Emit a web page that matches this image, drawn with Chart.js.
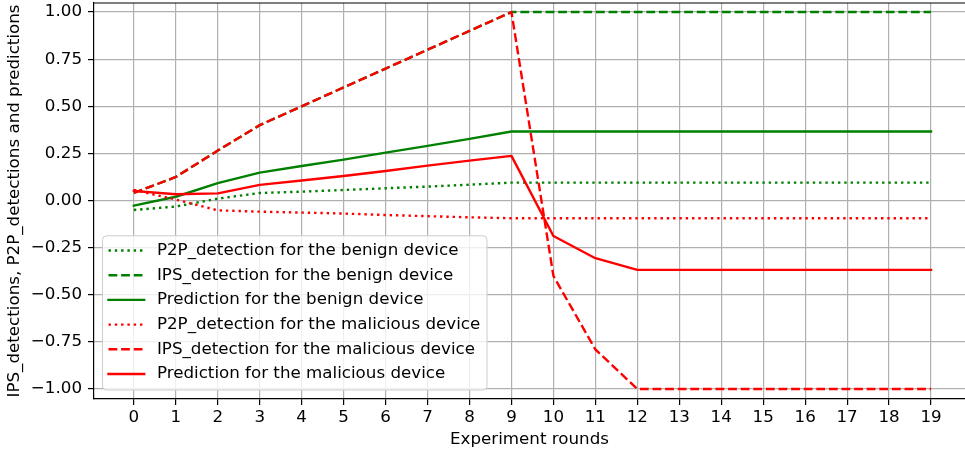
<!DOCTYPE html>
<html>
<head>
<meta charset="utf-8">
<script src="https://cdn.jsdelivr.net/npm/chart.js@4.4.0/dist/chart.umd.min.js"></script>
<style>
  html, body { margin: 0; padding: 0; background: #fff; overflow: hidden; }
  #wrap { width: 965px; height: 455px; }
</style>
</head>
<body>
<div id="wrap"><canvas id="chart" width="965" height="455"></canvas></div>
<script>
// Experiment rounds on the x axis
const rounds = [0, 1, 2, 3, 4, 5, 6, 7, 8, 9, 10, 11, 12, 13, 14, 15, 16, 17, 18, 19];

// Benign device
const p2pBenign  = [-0.05, -0.032, 0.01, 0.04, 0.047, 0.056, 0.065, 0.074, 0.084, 0.095,
                    0.095, 0.095, 0.095, 0.095, 0.095, 0.095, 0.095, 0.095, 0.095, 0.095];
const ipsBenign  = [0.04, 0.125, 0.265, 0.4, 0.5, 0.6, 0.7, 0.8, 0.9, 1.0,
                    1.0, 1.0, 1.0, 1.0, 1.0, 1.0, 1.0, 1.0, 1.0, 1.0];
const predBenign = [-0.027, 0.02, 0.092, 0.148, 0.183, 0.217, 0.254, 0.29, 0.327, 0.366,
                    0.366, 0.366, 0.366, 0.366, 0.366, 0.366, 0.366, 0.366, 0.366, 0.366];

// Malicious device
const p2pMal  = [0.056, 0.005, -0.052, -0.059, -0.064, -0.069, -0.077, -0.083, -0.089, -0.094,
                 -0.094, -0.094, -0.094, -0.094, -0.094, -0.094, -0.094, -0.094, -0.094, -0.094];
const ipsMal  = [0.04, 0.125, 0.265, 0.4, 0.5, 0.6, 0.7, 0.8, 0.9, 1.0,
                 -0.4, -0.79, -1.0, -1.0, -1.0, -1.0, -1.0, -1.0, -1.0, -1.0];
const predMal = [0.051, 0.033, 0.038, 0.083, 0.106, 0.13, 0.157, 0.185, 0.212, 0.237,
                 -0.188, -0.306, -0.368, -0.368, -0.368, -0.368, -0.368, -0.368, -0.368, -0.368];

// Tick labels
const xTicks = [0, 1, 2, 3, 4, 5, 6, 7, 8, 9, 10, 11, 12, 13, 14, 15, 16, 17, 18, 19];
const yTicks = [-1.0, -0.75, -0.5, -0.25, 0, 0.25, 0.5, 0.75, 1.0];

const GREEN = '#008000';
const RED = '#ff0000';
const DOTTED = [2.4, 3.9];
const DASHED = [8.8, 3.8];
const FONT = 16.7;

Chart.defaults.font.family = '"DejaVu Sans", sans-serif';
Chart.defaults.font.size = FONT;
Chart.defaults.color = '#000';

function pts(arr) {
  return rounds.map((r, i) => ({ x: r, y: arr[i] }));
}

function series(label, arr, color, dash, idx) {
  return {
    label: label,
    data: pts(arr),
    borderColor: color,
    backgroundColor: color,
    borderWidth: 2.4,
    borderDash: dash,
    borderCapStyle: dash.length ? 'butt' : 'square',
    borderJoinStyle: 'round',
    pointRadius: 0,
    tension: 0,
    fill: false,
    order: 5 - idx // later series drawn on top, like matplotlib
  };
}

// matplotlib style legend box inside the axes (lower left)
const legendBox = {
  id: 'legendBox',
  afterDraw(chart) {
    const { ctx, chartArea } = chart;
    const ds = chart.data.datasets;
    const rowH = 24.7;
    const w = 384.5;
    const h = ds.length * rowH + 6;
    const x0 = chartArea.left + 8.5;
    const y0 = chartArea.bottom - 9 - h;
    ctx.save();
    ctx.beginPath();
    ctx.roundRect(x0, y0, w, h, 4);
    ctx.fillStyle = 'rgba(255,255,255,0.8)';
    ctx.fill();
    ctx.strokeStyle = '#cccccc';
    ctx.lineWidth = 1;
    ctx.stroke();
    ds.forEach((d, i) => {
      const cy = y0 + 14.7 + i * rowH;
      ctx.beginPath();
      ctx.setLineDash(d.borderDash);
      ctx.lineCap = d.borderCapStyle;
      ctx.strokeStyle = d.borderColor;
      ctx.lineWidth = d.borderWidth;
      ctx.moveTo(x0 + 6, cy);
      ctx.lineTo(x0 + 41.7, cy);
      ctx.stroke();
      ctx.setLineDash([]);
      ctx.fillStyle = '#000';
      ctx.font = FONT + 'px "DejaVu Sans"';
      ctx.textBaseline = 'middle';
      ctx.fillText(d.label, x0 + 54.4, cy);
    });
    // top spine
    ctx.beginPath();
    ctx.strokeStyle = '#000';
    ctx.lineWidth = 1.2;
    ctx.moveTo(chartArea.left, chartArea.top);
    ctx.lineTo(chartArea.right, chartArea.top);
    ctx.stroke();
    ctx.restore();
  }
};

new Chart(document.getElementById('chart'), {
  type: 'line',
  data: {
    datasets: [
      series('P2P_detection for the benign device', p2pBenign, GREEN, DOTTED, 0),
      series('IPS_detection for the benign device', ipsBenign, GREEN, DASHED, 1),
      series('Prediction for the benign device', predBenign, GREEN, [], 2),
      series('P2P_detection for the malicious device', p2pMal, RED, DOTTED, 3),
      series('IPS_detection for the malicious device', ipsMal, RED, DASHED, 4),
      series('Prediction for the malicious device', predMal, RED, [], 5)
    ]
  },
  options: {
    responsive: false,
    animation: false,
    devicePixelRatio: 1,
    layout: { padding: { top: 3, right: 0, left: 0, bottom: 0 } },
    plugins: { legend: { display: false }, tooltip: { enabled: false } },
    scales: {
      x: {
        type: 'linear',
        min: -0.95,
        max: 19.81,
        afterBuildTicks: s => { s.ticks = xTicks.map(v => ({ value: v })); },
        afterFit: s => { s.height = 56; s.paddingLeft = 0; s.paddingRight = 0; },
        ticks: { padding: 3, maxRotation: 0, autoSkip: false, color: '#000' },
        grid: { color: '#b0b0b0', lineWidth: 1.2, tickColor: '#000', tickLength: 6, tickWidth: 1.2 },
        border: { color: '#000', width: 1.2 },
        title: { display: true, text: 'Experiment rounds', color: '#000', padding: { top: 5, bottom: 5 } }
      },
      y: {
        min: -1.053,
        max: 1.048,
        afterBuildTicks: s => { s.ticks = yTicks.map(v => ({ value: v })); },
        afterFit: s => { s.width = 94; s.paddingTop = 0; s.paddingBottom = 0; },
        ticks: {
          padding: 6,
          color: '#000',
          callback: v => (v < 0 ? '\u2212' : '') + Math.abs(v).toFixed(2)
        },
        grid: { color: '#b0b0b0', lineWidth: 1.2, tickColor: '#000', tickLength: 6, tickWidth: 1.2 },
        border: { color: '#000', width: 1.2 },
        title: { display: true, text: 'IPS_detections, P2P_detections and predictions', color: '#000', padding: { top: 5, bottom: 5 } }
      }
    }
  },
  plugins: [legendBox]
});
</script>
</body>
</html>
